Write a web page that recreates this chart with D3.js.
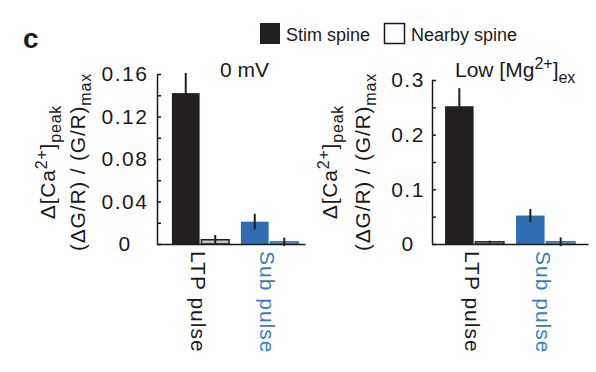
<!DOCTYPE html>
<html>
<head>
<meta charset="utf-8">
<script src="https://cdn.jsdelivr.net/npm/d3@7"></script>
<style>
  body { margin: 0; background: #fff; }
  svg { display: block; font-family: "Liberation Sans", Arial, sans-serif; }
  .axis path, .axis line { stroke: #1a1a1a; stroke-width: 1.5; }
  .axis text { font-size: 21px; fill: #1a1a1a; letter-spacing: 1.5px; }
</style>
</head>
<body>
<svg id="chart" width="596" height="372"></svg>
<script>
// categories / series
var groups = ['LTP pulse', 'Sub pulse'];
var series = ['Stim spine', 'Nearby spine'];
var groupColors = ['#231f20', '#2f6db3'];
var nearFills = ['#c4c4c4', '#8db4df'];
var labelColors = ['#1a1a1a', '#3a7cc2'];

// 0 mV panel
var mv0Stim = [0.142, 0.021];
var mv0StimErr = [0.019, 0.0074];
var mv0Near = [0.004, 0.002];
var mv0NearErr = [0.0045, 0.004];
var mv0Ticks = [0, 0.02, 0.04, 0.06, 0.08, 0.10, 0.12, 0.14, 0.16];
var mv0Labels = ['0', '', '0.04', '', '0.08', '', '0.12', '', '0.16'];

// low Mg panel
var lowMgStim = [0.252, 0.052];
var lowMgStimErr = [0.033, 0.012];
var lowMgNear = [0.004, 0.004];
var lowMgNearErr = [0.002, 0.008];
var lowMgTicks = [0, 0.05, 0.1, 0.15, 0.2, 0.25, 0.3];
var lowMgLabels = ['0', '', '0.1', '', '0.2', '', '0.3'];

var svg = d3.select('#chart');

// panel letter
svg.append('text').attr('x', 23).attr('y', 48)
  .attr('font-size', 28).attr('font-weight', 'bold').attr('fill', '#1a1a1a').text('c');

// legend
svg.append('rect').attr('x', 260).attr('y', 23).attr('width', 20).attr('height', 21)
  .attr('fill', '#231f20');
svg.append('text').attr('x', 286).attr('y', 41).attr('font-size', 18).attr('fill', '#1a1a1a')
  .text(series[0]);
svg.append('rect').attr('x', 384.5).attr('y', 23.5).attr('width', 20).attr('height', 20)
  .attr('fill', '#fff').attr('stroke', '#1a1a1a').attr('stroke-width', 1.5);
svg.append('text').attr('x', 411).attr('y', 41).attr('font-size', 18).attr('fill', '#1a1a1a')
  .text(series[1]);

function yLabel(g, x1, x2) {
  var t1 = g.append('text').attr('transform', 'translate(' + x1 + ',162) rotate(-90)')
    .attr('text-anchor', 'middle').attr('font-size', 21).attr('fill', '#1a1a1a')
    .attr('letter-spacing', '0.8px');
  t1.append('tspan').text('\u0394[Ca');
  t1.append('tspan').attr('dy', -8).attr('font-size', 16).text('2+');
  t1.append('tspan').attr('dy', 8).text(']');
  t1.append('tspan').attr('dy', 6).attr('font-size', 16).text('peak');

  var t2 = g.append('text').attr('transform', 'translate(' + x2 + ',162) rotate(-90)')
    .attr('text-anchor', 'middle').attr('font-size', 21).attr('fill', '#1a1a1a')
    .attr('letter-spacing', '0.8px');
  t2.append('tspan').text('(\u0394G/R) / (G/R)');
  t2.append('tspan').attr('dy', 6).attr('font-size', 16).text('max');
}

function panel(cfg) {
  var g = svg.append('g');
  var y = d3.scaleLinear().domain([0, cfg.ymax]).range([244, cfg.ytop]);
  var x0 = d3.scaleBand().domain(groups).range(cfg.groupRange);
  var x1 = d3.scaleBand().domain(series).range([0, x0.bandwidth()])
    .paddingInner(0.06).paddingOuter(0.2);

  var rows = [];
  groups.forEach(function (grp, i) {
    rows.push({ g: grp, s: series[0], v: cfg.stim[i], e: cfg.stimErr[i], i: i });
    rows.push({ g: grp, s: series[1], v: cfg.near[i], e: cfg.nearErr[i], i: i });
  });

  // bars
  g.selectAll('rect.bar').data(rows).join('rect')
    .attr('class', 'bar')
    .attr('x', function (d) { return x0(d.g) + x1(d.s); })
    .attr('width', x1.bandwidth())
    .attr('y', function (d) { return y(d.v); })
    .attr('height', function (d) { return y(0) - y(d.v); })
    .attr('fill', function (d) { return d.s === series[0] ? groupColors[d.i] : nearFills[d.i]; })
    .attr('stroke', function (d) { return d.s === series[0] ? 'none' : groupColors[d.i]; })
    .attr('stroke-width', 1.5);

  // error bars
  g.selectAll('line.err').data(rows).join('line')
    .attr('class', 'err')
    .attr('x1', function (d) { return x0(d.g) + x1(d.s) + x1.bandwidth() / 2; })
    .attr('x2', function (d) { return x0(d.g) + x1(d.s) + x1.bandwidth() / 2; })
    .attr('y1', function (d) { return y(d.v + d.e); })
    .attr('y2', function (d) { return y(d.v - d.e); })
    .attr('stroke', '#231f20').attr('stroke-width', 2);

  // y axis
  var yAxis = d3.axisLeft(y).tickValues(cfg.ticks).tickSizeInner(-4).tickSizeOuter(0)
    .tickFormat(function (d, i) { return cfg.labels[i]; });
  var ya = g.append('g').attr('class', 'axis').attr('transform', 'translate(' + cfg.axisX + ',0)')
    .call(yAxis);
  ya.selectAll('text').attr('x', -cfg.labelOff).attr('text-anchor', 'middle');

  // x axis
  var xFrame = d3.scaleLinear().range([cfg.axisX, cfg.axisEnd]);
  g.append('g').attr('class', 'axis').attr('transform', 'translate(0,244)')
    .call(d3.axisBottom(xFrame).tickValues([]).tickSizeOuter(0));

  // category labels
  g.selectAll('text.cat').data(groups).join('text')
    .attr('class', 'cat')
    .attr('transform', function (d) {
      return 'translate(' + (x0(d) + x0.bandwidth() / 2 - 2) + ',251) rotate(90)';
    })
    .attr('dy', '0.35em')
    .attr('font-size', 21).attr('letter-spacing', '1px')
    .attr('fill', function (d, i) { return labelColors[i]; })
    .text(function (d) { return d; });

  yLabel(g, cfg.yl1, cfg.yl2);

  // title
  var t = g.append('text').attr('x', cfg.titleX).attr('y', 77)
    .attr('font-size', 21).attr('fill', '#1a1a1a');
  cfg.title(t);
}

panel({
  ymax: 0.16, ytop: 74, stim: mv0Stim, stimErr: mv0StimErr, near: mv0Near, nearErr: mv0NearErr,
  ticks: mv0Ticks, labels: mv0Labels, axisX: 157, axisEnd: 305, labelOff: 32,
  groupRange: [166, 304], yl1: 55, yl2: 85, titleX: 220,
  title: function (t) { t.text('0 mV'); }
});

panel({
  ymax: 0.3, ytop: 80, stim: lowMgStim, stimErr: lowMgStimErr, near: lowMgNear, nearErr: lowMgNearErr,
  ticks: lowMgTicks, labels: lowMgLabels, axisX: 432, axisEnd: 588, labelOff: 24,
  groupRange: [439, 581], yl1: 337, yl2: 370, titleX: 455,
  title: function (t) {
    t.append('tspan').text('Low [Mg');
    t.append('tspan').attr('dy', -8).attr('font-size', 16).text('2+');
    t.append('tspan').attr('dy', 8).text(']');
    t.append('tspan').attr('dy', 6).attr('font-size', 16).text('ex');
  }
});
</script>
</body>
</html>
